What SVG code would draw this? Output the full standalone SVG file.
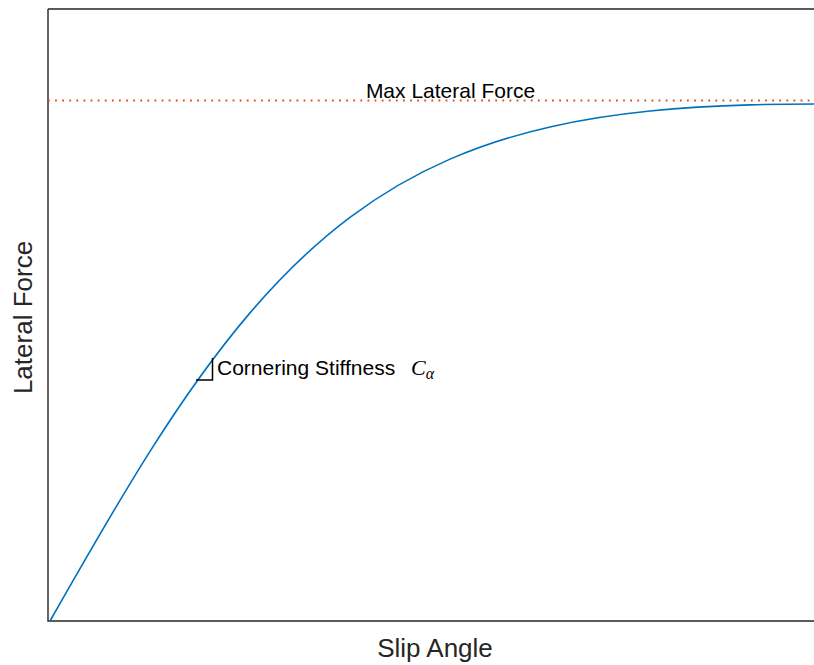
<svg xmlns="http://www.w3.org/2000/svg" width="814" height="665" viewBox="0 0 814 665">
  <style>
    .axis { stroke: #262626; stroke-width: 1.4; fill: none; }
    .lbl { font-family: "Liberation Sans", Arial, Helvetica, sans-serif; fill: #000; }
    .axlbl { font-family: "Liberation Sans", Arial, Helvetica, sans-serif; font-size: 26px; fill: #262626; }
    .math { font-family: "Liberation Serif", "Times New Roman", serif; font-style: italic; fill: #000; }
  </style>
  <rect width="814" height="665" fill="#ffffff"/>

  <!-- axes box (left, bottom, top) -->
  <g id="axes">
    <path class="axis" d="M48,9 H814 M48,9 V621 H814"/>
  </g>

  <!-- axis labels -->
  <g id="xlabel">
    <text class="axlbl" x="435" y="657" text-anchor="middle">Slip Angle</text>
  </g>
  <g id="ylabel">
    <text class="axlbl" transform="translate(32,317.5) rotate(-90)" text-anchor="middle">Lateral Force</text>
  </g>

  <!-- saturation level -->
  <g id="max-force">
    <line x1="48" y1="100.5" x2="814" y2="100.5" stroke="#D95319" stroke-width="1.8" stroke-dasharray="1.8 5.3"/>
    <text class="lbl" x="450.5" y="98" font-size="21" text-anchor="middle">Max Lateral Force</text>
  </g>

  <!-- tyre lateral force curve: F = D sin(C atan(B a)) -->
  <g id="force-curve">
    <path fill="none" stroke="#0072BD" stroke-width="1.6"
      d="M50,621 C83.33,562.40 116.67,503.97 150,451.32
         C183.33,398.67 216.67,351.89 250,312.86
         C283.33,273.83 316.67,242.39 350,217.35
         C383.33,192.31 416.67,173.57 450,159.12
         C483.33,144.67 516.67,134.48 550,126.93
         C583.33,119.38 616.67,114.46 650,111.07
         C683.33,107.68 716.67,105.84 750,104.87
         C771.33,104.25 792.67,104 814,104"/>
  </g>

  <!-- initial slope marker -->
  <g id="stiffness">
    <path d="M196,380 H212.5 V358" fill="none" stroke="#000" stroke-width="1.5"/>
    <text class="lbl" x="217" y="374.5" font-size="21">Cornering Stiffness</text>
    <text class="math" x="411" y="375" font-size="22">C<tspan font-size="16" dy="4">α</tspan></text>
  </g>
</svg>
